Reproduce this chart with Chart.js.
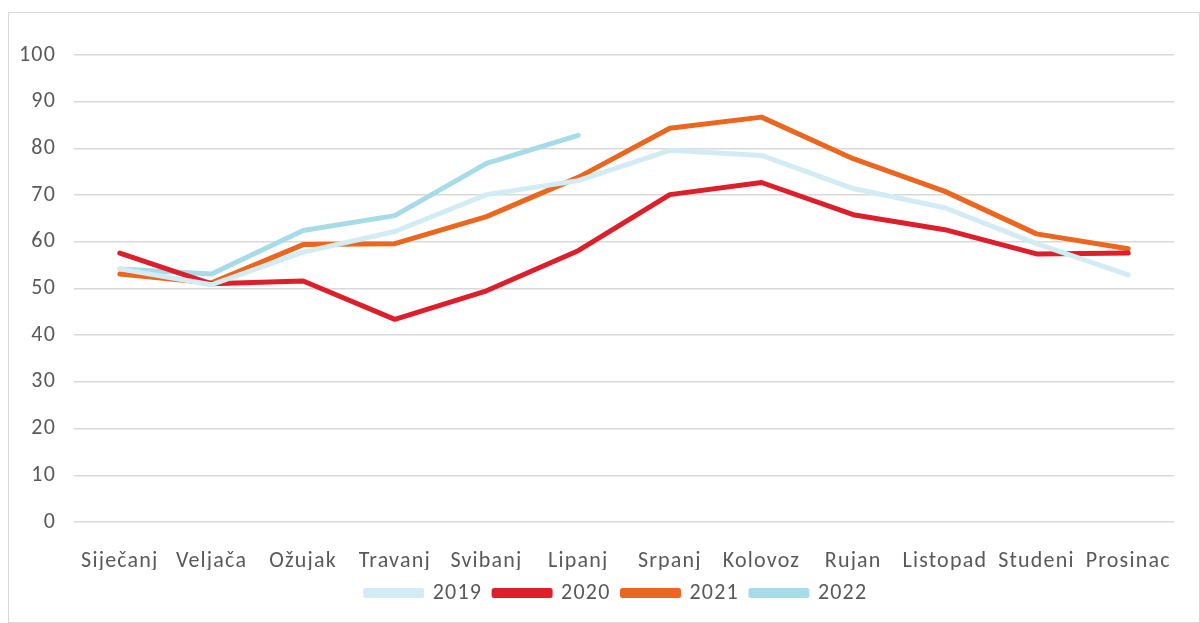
<!DOCTYPE html>
<html>
<head>
<meta charset="utf-8">
<script src="https://cdn.jsdelivr.net/npm/chart.js@4"></script>
<style>
  html, body { margin: 0; padding: 0; background: #fff; }
  #wrap {
    position: absolute; left: 8px; top: 12px;
    width: 1190px; height: 609px;
    border: 1px solid #d9d9d9;
  }
</style>
</head>
<body>
<div id="wrap"><canvas id="lineChart" width="1190" height="609"></canvas></div>
<script>
// months and yearly series
const months = ['Siječanj', 'Veljača', 'Ožujak', 'Travanj', 'Svibanj', 'Lipanj',
  'Srpanj', 'Kolovoz', 'Rujan', 'Listopad', 'Studeni', 'Prosinac'];
const y2019 = [54.2, 50.8, 57.8, 62.2, 70.1, 73.1, 79.6, 78.5, 71.4, 67.3, 59.6, 52.9];
const y2020 = [57.6, 51.0, 51.6, 43.4, 49.5, 58.1, 70.1, 72.7, 65.8, 62.6, 57.4, 57.6];
const y2021 = [53.1, 51.2, 59.4, 59.6, 65.4, 73.8, 84.3, 86.7, 77.8, 70.8, 61.7, 58.5];
const y2022 = [54.2, 53.1, 62.4, 65.6, 76.8, 82.8];

const textColor = '#595959';
const font = { family: 'Carlito, Calibri, "Open Sans", sans-serif', size: 22 };

function series(label, data, color) {
  return {
    label: label,
    data: data,
    borderColor: color,
    backgroundColor: color,
    borderWidth: 5,
    borderCapStyle: 'round',
    borderJoinStyle: 'round',
    pointRadius: 0,
    tension: 0,
    fill: false
  };
}

// the source text is a bit wider than Carlito, so space letters out a little
const spacing = {
  id: 'spacing',
  beforeUpdate: chart => { chart.ctx.letterSpacing = '1.2px'; },
  beforeDraw: chart => { chart.ctx.letterSpacing = '1.2px'; }
};

// legend sits centred under the plot area, not the whole canvas
const legendShift = {
  id: 'legendShift',
  afterLayout: chart => {
    chart.legend.left += 25;
    chart.legend.right += 25;
  }
};

const ctx = document.getElementById('lineChart').getContext('2d');
new Chart(ctx, {
  type: 'line',
  data: {
    labels: months,
    datasets: [
      series('2019', y2019, '#d3ecf3'),
      series('2020', y2020, '#dc1f2b'),
      series('2021', y2021, '#eb661f'),
      series('2022', y2022, '#a6dbe8')
    ]
  },
  plugins: [spacing, legendShift],
  options: {
    responsive: false,
    animation: false,
    layout: { padding: { left: 0, right: 25, top: 42, bottom: 8 } },
    plugins: {
      tooltip: { enabled: false },
      legend: {
        position: 'bottom',
        labels: {
          color: textColor,
          font: font,
          boxWidth: 56,
          boxHeight: 5,
          padding: 12
        }
      }
    },
    scales: {
      x: {
        offset: true,
        grid: { display: false },
        border: { display: false },
        ticks: { color: textColor, font: font, padding: 18, maxRotation: 0 },
        afterFit: s => { s.height = 48; }
      },
      y: {
        min: 0,
        max: 100,
        ticks: { stepSize: 10, color: textColor, font: font, padding: 18 },
        grid: { color: '#d9d9d9', lineWidth: 1.5, drawTicks: false },
        border: { display: false },
        afterFit: s => { s.width = 65; }
      }
    }
  }
});
</script>
</body>
</html>
